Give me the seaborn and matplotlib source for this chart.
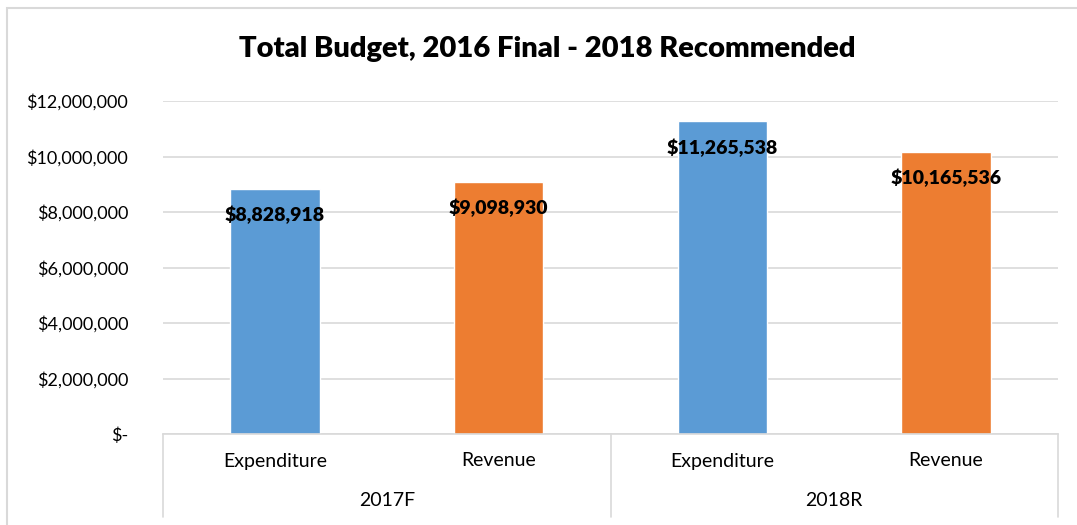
import matplotlib
matplotlib.use("Agg")
import matplotlib.pyplot as plt
from matplotlib.patches import Rectangle
from matplotlib.lines import Line2D
import matplotlib.transforms as mtransforms
import seaborn as sns
import pandas as pd

years = ["2017F", "2017F", "2018R", "2018R"]
items = ["Expenditure", "Revenue", "Expenditure", "Revenue"]
values = [8828918, 9098930, 11265538, 10165536]
title = "Total Budget, 2016 Final - 2018 Recommended"
yticks = [0, 2000000, 4000000, 6000000, 8000000, 10000000, 12000000]
colors = {"Expenditure": "#5B9BD5", "Revenue": "#ED7D31"}

sns.set_theme(style="white")
plt.rcParams["font.family"] = ["Lato", "DejaVu Sans"]
plt.rcParams["text.color"] = "black"
plt.rcParams["ytick.color"] = "black"

df = pd.DataFrame({
    "slot": [f"{y}|{i}" for y, i in zip(years, items)],
    "year": years, "item": items, "value": values,
})

fig = plt.figure(figsize=(10.77, 5.25), dpi=100)
ax = fig.add_axes([163/1077, 1-434/525, (1058-163)/1077, (434-101)/525])

sns.barplot(data=df, x="slot", y="value", hue="item", palette=colors,
            dodge=False, width=0.4, ax=ax, legend=False, saturation=1)

ax.set_ylim(0, 12000000)
ax.set_xlim(-0.5, len(values) - 0.5)
ax.set_yticks(yticks)
ax.set_yticklabels(["$-" if v == 0 else f"${v:,.0f}" for v in yticks], fontsize=13, color="black")
ax.tick_params(axis="y", length=0, pad=25)
ax.tick_params(axis="x", length=0)
ax.set_xticks([])
ax.set_xlabel("")
ax.set_ylabel("")
ax.yaxis.grid(True, color="#D9D9D9", linewidth=1.2)
ax.set_axisbelow(True)
for s in ["left", "right", "top"]:
    ax.spines[s].set_visible(False)
ax.spines["bottom"].set_color("#D9D9D9")
ax.spines["bottom"].set_linewidth(1.2)

# data labels (inside end)
for i, v in enumerate(values):
    ax.annotate(f"${v:,.0f}", xy=(i, v), xytext=(0, -19), textcoords="offset points",
                ha="center", va="center", fontsize=14, fontweight="heavy", color="black")

# multi-level category axis
trans = mtransforms.blended_transform_factory(ax.transData, fig.transFigure)
for i, it in enumerate(items):
    ax.text(i, 1-461/525, it, transform=trans, ha="center", va="center", fontsize=14, color="black")
uniq_years = []
for y in years:
    if y not in uniq_years:
        uniq_years.append(y)
for y in uniq_years:
    idx = [i for i, yy in enumerate(years) if yy == y]
    ax.text(sum(idx)/len(idx), 1-501/525, y, transform=trans, ha="center", va="center",
            fontsize=14, color="black")
bounds = [-0.5] + [i + 0.5 for i in range(len(years) - 1) if years[i] != years[i+1]] + [len(years) - 0.5]
for b in bounds:
    fig.add_artist(Line2D([b, b], [1-434/525, 1-517/525], transform=trans, color="#D9D9D9", linewidth=1.2))

fig.suptitle(title, x=547/1077, y=1-49/525, va="center", fontsize=21, fontweight="heavy", color="black")

fig.add_artist(Rectangle((7/1077, -0.02), 1.05, 1-8/525+0.02, transform=fig.transFigure,
                         fill=False, edgecolor="#D9D9D9", linewidth=1.5))

fig.savefig("out.png", dpi=100)
